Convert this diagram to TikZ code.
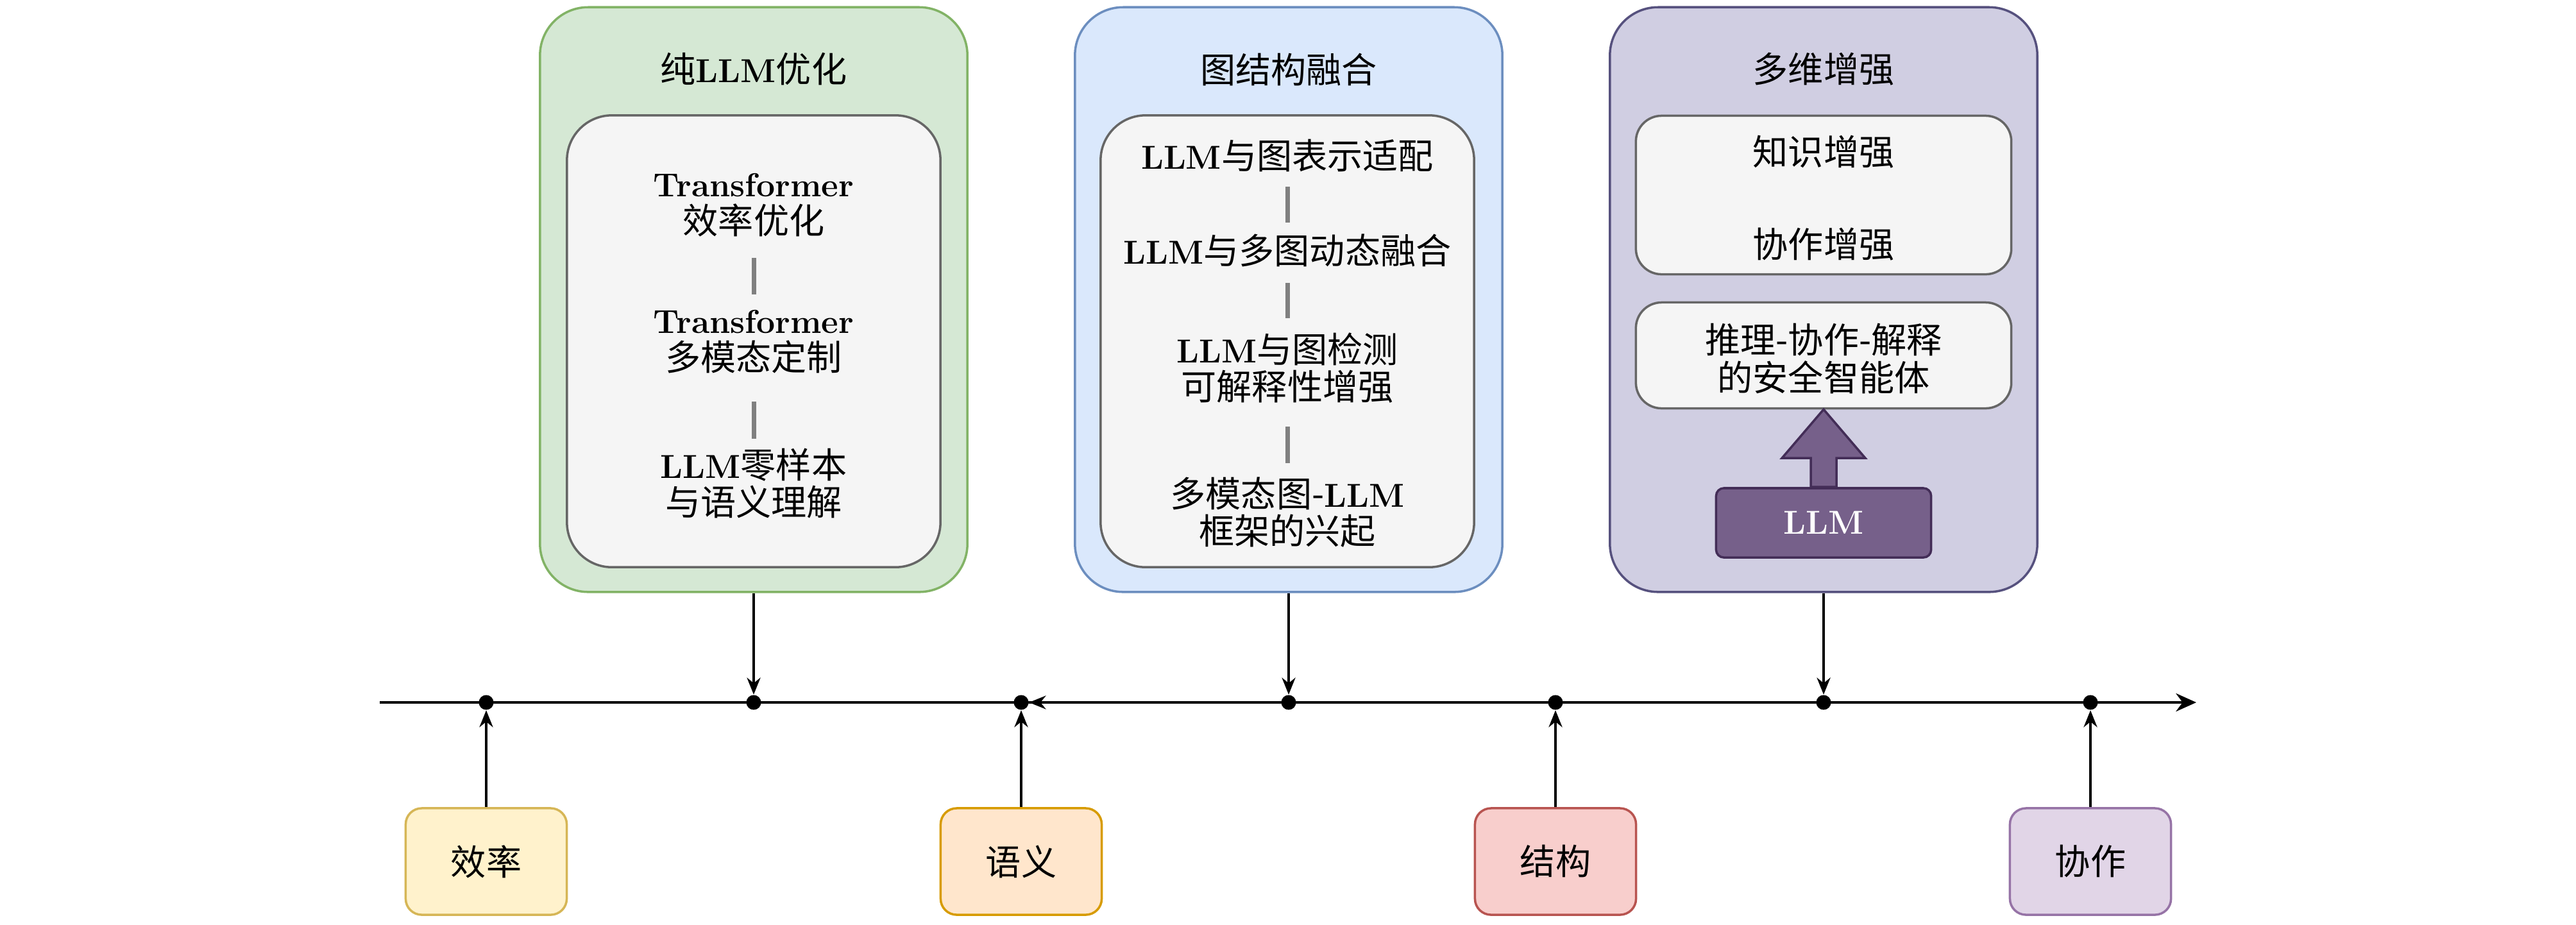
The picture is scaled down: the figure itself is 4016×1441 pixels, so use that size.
\documentclass[tikz,border=0pt]{standalone}
\usepackage{fontspec}
\newfontfamily\cjk{Noto Sans CJK SC}[Scale=1.12]
\usetikzlibrary{arrows.meta,calc}
\definecolor{gfill}{HTML}{D5E8D4}\definecolor{gline}{HTML}{82B366}
\definecolor{bfill}{HTML}{DAE8FC}\definecolor{bline}{HTML}{6C8EBF}
\definecolor{pfill}{HTML}{D0CEE2}\definecolor{pline}{HTML}{56517E}
\definecolor{grayfill}{HTML}{F5F5F5}\definecolor{grayline}{HTML}{666666}
\definecolor{sepgray}{HTML}{808080}
\definecolor{llmfill}{HTML}{76608A}\definecolor{llmline}{HTML}{432D57}
\definecolor{yfill}{HTML}{FFF2CC}\definecolor{yline}{HTML}{D6B656}
\definecolor{ofill}{HTML}{FFE6CC}\definecolor{oline}{HTML}{D79B00}
\definecolor{rfill}{HTML}{F8CECC}\definecolor{rline}{HTML}{B85450}
\definecolor{vfill}{HTML}{E1D5E7}\definecolor{vline}{HTML}{9673A6}
\newcommand{\EN}[1]{{\fontsize{14.7}{16.5}\rmfamily\bfseries #1}}
\begin{document}
\begin{tikzpicture}[x=0.01cm,y=-0.01cm,
  txt/.style={font=\fontsize{14}{16.5}\selectfont\cjk, align=center, inner sep=0pt},
  outerbox/.style={line width=1pt, rounded corners=0.75cm, minimum width=6.66cm, minimum height=9.11cm, inner sep=0pt},
  innerbox/.style={draw=grayline, fill=grayfill, line width=1pt, rounded corners=0.7cm, minimum width=5.82cm, minimum height=7.04cm, inner sep=0pt},
  pinner/.style={draw=grayline, fill=grayfill, line width=1pt, rounded corners=0.4cm, minimum width=5.85cm, inner sep=0pt},
  bottombox/.style={line width=1pt, rounded corners=0.25cm, minimum width=2.51cm, minimum height=1.66cm, inner sep=0pt, font=\fontsize{14}{16.5}\selectfont\cjk},
  sepbar/.style={draw=sepgray, line width=2pt},
  conn/.style={draw=black, line width=1pt, -{Stealth[length=7.5pt,width=6pt]}},
  timeline/.style={draw=black, line width=1.3pt, -{Stealth[length=9pt,width=8pt]}},
  dot/.style={circle, fill=black, inner sep=0pt, minimum size=0.23cm},
  ]
\useasboundingbox (0,0) rectangle (4016,1441);

% ---------- outer boxes ----------
\node[outerbox, draw=gline, fill=gfill] (g) at (1175,467) {};
\node[outerbox, draw=bline, fill=bfill] (b) at (2009,467) {};
\node[outerbox, draw=pline, fill=pfill] (p) at (2843,467) {};

\node[txt] (gt) at (1175,108) {纯\EN{LLM}优化};
\node[txt] (bt) at (2009,108) {图结构融合};
\node[txt] (pt) at (2843,108) {多维增强};

% ---------- green inner ----------
\node[innerbox] (gi) at (1175,532) {};
\node[txt] (g1) at (1175,320) {\EN{Transformer}\\效率优化};
\node[txt] (g2) at (1175,533) {\EN{Transformer}\\多模态定制};
\node[txt] (g3) at (1175,754) {\EN{LLM}零样本\\与语义理解};
\coordinate (g1a) at (1175,402); \coordinate (g1b) at (1175,459);
\coordinate (g2a) at (1175,626); \coordinate (g2b) at (1175,684);
\draw[sepbar] (g1a) -- (g1b);
\draw[sepbar] (g2a) -- (g2b);

% ---------- blue inner ----------
\node[innerbox] (bi) at (2007,532) {};
\node[txt] (b1) at (2007,243) {\EN{LLM}与图表示适配};
\node[txt] (b2) at (2007,390) {\EN{LLM}与多图动态融合};
\node[txt] (b3) at (2007,574) {\EN{LLM}与图检测\\可解释性增强};
\node[txt] (b4) at (2007,799) {多模态图-\EN{LLM}\\框架的兴起};
\coordinate (b1a) at (2007,291); \coordinate (b1b) at (2007,347);
\coordinate (b2a) at (2007,441); \coordinate (b2b) at (2007,496);
\coordinate (b3a) at (2007,665); \coordinate (b3b) at (2007,722);
\draw[sepbar] (b1a) -- (b1b);
\draw[sepbar] (b2a) -- (b2b);
\draw[sepbar] (b3a) -- (b3b);

% ---------- purple inner ----------
\node[pinner, minimum height=2.47cm] (pi1) at (2843,304) {};
\node[txt] (p1) at (2843,237) {知识增强};
\node[txt] (p2) at (2843,381) {协作增强};
\node[pinner, minimum height=1.65cm] (pi2) at (2843,554) {};
\node[txt] (p3) at (2843,559) {推理-协作-解释\\的安全智能体};
\node[draw=llmline, fill=llmfill, line width=1pt, rounded corners=0.12cm, minimum width=3.35cm, minimum height=1.08cm, inner sep=0pt, text=white, font=\fontsize{14.7}{16.5}\selectfont\rmfamily\bfseries] (llm) at (2843,815) {LLM};
\draw[draw=llmline, fill=llmfill, line width=1pt]
  ($(llm.north)+(-20,0)$) -- ($(llm.north)+(-20,-45)$) -- ($(llm.north)+(-65,-45)$)
  -- ($(llm.north)+(0,-121)$) -- ($(llm.north)+(65,-45)$) -- ($(llm.north)+(20,-45)$)
  -- ($(llm.north)+(20,0)$) -- cycle;

% ---------- bottom boxes ----------
\node[bottombox, draw=yline, fill=yfill] (e1) at (758,1343) {效率};
\node[bottombox, draw=oline, fill=ofill] (e2) at (1592,1343) {语义};
\node[bottombox, draw=rline, fill=rfill] (e3) at (2425,1343) {结构};
\node[bottombox, draw=vline, fill=vfill] (e4) at (3259,1343) {协作};

% ---------- timeline ----------
\coordinate (tl0) at (592,1095);
\coordinate (tl1) at (3424,1095);
\draw[timeline] (tl0) -- (tl1);

\node[dot] (d1) at (758,1095) {};
\node[dot] (d2) at (1175,1095) {};
\node[dot] (d3) at (1592,1095) {};
\node[dot] (d4) at (2009,1095) {};
\node[dot] (d5) at (2425,1095) {};
\node[dot] (d6) at (2843,1095) {};
\node[dot] (d7) at (3259,1095) {};

\draw[conn] (g.south) -- (d2.north);
\draw[conn] (b.south) -- (d4.north);
\draw[conn] (p.south) -- (d6.north);
\draw[conn] (e1.north) -- (d1.south);
\draw[conn] (e2.north) -- (d3.south);
\draw[conn] (e3.north) -- (d5.south);
\draw[conn] (e4.north) -- (d7.south);
\draw[conn] (d4) -- (d3);
\end{tikzpicture}
\end{document}
